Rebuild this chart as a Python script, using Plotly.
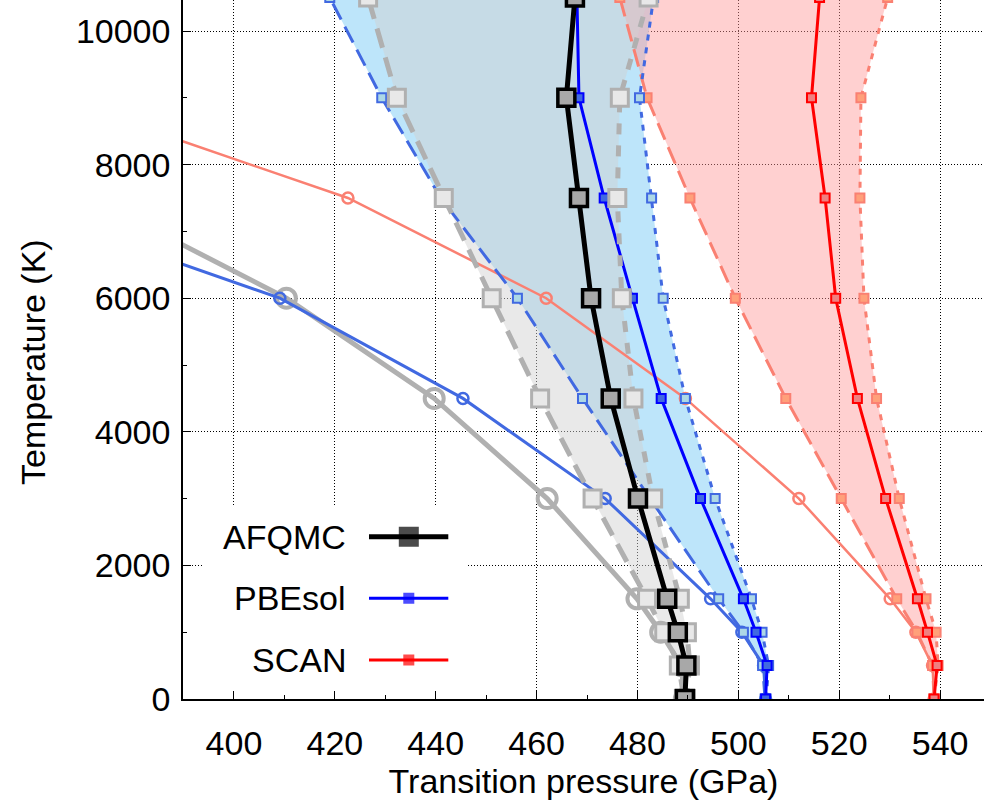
import plotly.graph_objects as go

# ---------------- data ----------------
T = [0, 500, 1000, 1500, 3000, 4500, 6000, 7500, 9000, 10500]

afqmc = [489.4, 489.7, 488.0, 485.9, 480.1, 474.7, 470.8, 468.4, 465.9, 467.6]
afqmc_lo = [489.2, 488.2, 485.3, 481.9, 471.1, 460.7, 451.1, 441.6, 432.3, 426.6]
afqmc_hi = [489.6, 490.4, 489.8, 488.4, 483.1, 479.2, 476.9, 476.0, 476.5, 482.2]

pbesol = [505.4, 505.7, 503.5, 501.0, 492.5, 484.7, 479.0, 473.4, 468.4, 468.0]
pbesol_lo = [505.3, 504.8, 501.0, 496.1, 482.5, 469.1, 456.2, 441.0, 429.3, 419.0]
pbesol_hi = [505.5, 506.0, 504.7, 502.6, 495.4, 489.5, 485.1, 482.8, 480.4, 483.2]

scan = [538.8, 539.4, 537.5, 535.5, 529.2, 523.6, 519.3, 517.2, 514.5, 516.1]
scan_lo = [538.8, 538.5, 535.4, 531.4, 520.4, 509.4, 499.4, 490.4, 481.9, 476.5]
scan_hi = [538.8, 539.6, 539.2, 537.2, 531.9, 527.4, 524.9, 524.1, 524.3, 529.6]

T_melt_afqmc = [0, 500, 1000, 1500, 3000, 4500, 6000, 7500]
afqmc_melt = [489.3, 488.7, 484.6, 479.9, 462.1, 439.7, 410.4, 371.8]

T_melt_pbesol = [0, 500, 1000, 1500, 3000, 4500, 6000, 7500]
pbesol_melt = [505.4, 505.0, 500.7, 494.5, 473.6, 445.4, 409.1, 352.2]

T_melt_scan = [0, 500, 1000, 1500, 3000, 4500, 6000, 7500, 9000]
scan_melt = [538.8, 538.5, 535.2, 530.1, 512.0, 489.5, 461.9, 422.6, 364.7]

legend_names = ["AFQMC", "PBEsol", "SCAN"]

x_ticks = [400, 420, 440, 460, 480, 500, 520, 540]
y_ticks = [0, 2000, 4000, 6000, 8000, 10000]
y_tick_text = ["0", "2000", "4000", "6000", "8000", "10000"]

# ---------------- styling ----------------
FONT = "Liberation Sans, Arial, Helvetica, sans-serif"
FS = 34
W, H = 984, 807
ML, MR, MT, MB = 183, 0, 0, 108
PW, PH = W - ML - MR, H - MT - MB

GRAY = "#b0b0b0"
ROYAL = "#4169e1"
SALMON = "#fa8072"

fig = go.Figure()


def band(lo, hi, color):
    fig.add_trace(go.Scatter(
        x=lo + hi[::-1], y=T + T[::-1], mode="lines", fill="toself",
        fillcolor=color, line=dict(width=0), hoverinfo="skip", showlegend=False))


def curve(x, y, color, width, dash, symbol, msize, mfill, mline, mlw):
    fig.add_trace(go.Scatter(
        x=x, y=y, mode="lines+markers",
        line=dict(color=color, width=width, dash=dash),
        marker=dict(symbol=symbol, size=msize, color=mfill,
                    line=dict(color=mline, width=mlw)),
        showlegend=False))


# bands
band(pbesol_lo, pbesol_hi, "rgb(189,229,250)")
band(scan_lo, scan_hi, "rgba(255,150,150,0.45)")
band(afqmc_lo, afqmc_hi, "rgba(208,208,208,0.48)")

# melting-like curves
curve(afqmc_melt, T_melt_afqmc, GRAY, 5, "solid", "circle-open", 19, GRAY, GRAY, 4)
curve(pbesol_melt, T_melt_pbesol, ROYAL, 3, "solid", "circle-open", 11, ROYAL, ROYAL, 2.5)
curve(scan_melt, T_melt_scan, SALMON, 2.5, "solid", "circle-open", 11, SALMON, SALMON, 2.5)

# SCAN
curve(scan_lo, T, SALMON, 3, "18px,8px", "square", 9, "#ffa07a", SALMON, 2)
curve(scan_hi, T, SALMON, 3, "6px,7px", "square", 9, "#ffa07a", SALMON, 2)
curve(scan, T, "#ff0000", 3, "solid", "square", 9, "#f08080", "#ff0000", 2)

# PBEsol
curve(pbesol_lo, T, ROYAL, 3, "18px,8px", "square", 9, "#add8e6", ROYAL, 2)
curve(pbesol_hi, T, ROYAL, 3, "6px,7px", "square", 9, "#add8e6", ROYAL, 2)
curve(pbesol, T, "#0000ff", 3, "solid", "square", 9, ROYAL, "#0000ff", 2)

# AFQMC
curve(afqmc_lo, T, GRAY, 5, "20px,10px", "square", 17, "#e8e8e8", GRAY, 3)
curve(afqmc_hi, T, GRAY, 5, "11px,11px", "square", 17, "#e8e8e8", GRAY, 3)
curve(afqmc, T, "#000000", 5, "solid", "square", 17, "#a8a8a8", "#000000", 3.5)

# ---------------- custom legend (text left, sample right) ----------------
def px_x(p):
    return (p - ML) / PW


def px_y(p):
    return (H - MB - p) / PH


box_x = [px_x(203), px_x(468), px_x(468), px_x(203), px_x(203)]
box_y = [px_y(697), px_y(697), px_y(506), px_y(506), px_y(697)]
fig.add_trace(go.Scatter(x=box_x, y=box_y, xaxis="x3", yaxis="y3", mode="lines",
                         fill="toself", fillcolor="white", line=dict(width=0),
                         hoverinfo="skip", showlegend=False))

leg_rows = [536.7, 598.3, 660.0]
leg_styles = [
    dict(color="#000000", width=5, msize=17, mfill="#000000", mline="#000000", mlw=3),
    dict(color="#0000ff", width=3, msize=9, mfill="#0000ff", mline="#0000ff", mlw=2),
    dict(color="#ff0000", width=3, msize=9, mfill="#ff0000", mline="#ff0000", mlw=2),
]
annotations = []
for name, row, st in zip(legend_names, leg_rows, leg_styles):
    yy = px_y(row)
    fig.add_trace(go.Scatter(
        x=[px_x(369), px_x(408.8), px_x(448.3)], y=[yy, yy, yy],
        xaxis="x3", yaxis="y3", mode="lines+markers",
        line=dict(color=st["color"], width=st["width"]),
        marker=dict(symbol="square", size=[0, st["msize"], 0], color=st["mfill"],
                    line=dict(color=st["mline"], width=[0, st["mlw"], 0])),
        hoverinfo="skip", showlegend=False))
    annotations.append(dict(x=px_x(348), y=yy, xref="paper", yref="paper",
                            text=name, showarrow=False, xanchor="right",
                            yanchor="middle", font=dict(family=FONT, size=FS, color="black")))

annotations.append(dict(x=px_x(33), y=px_y(362), xref="paper", yref="paper",
                        text="Temperature (K)", textangle=-90, showarrow=False,
                        xanchor="center", yanchor="middle",
                        font=dict(family=FONT, size=FS, color="black")))

XR = [389.9, 548.7]
YR = [0, 10464]

axis_common = dict(
    ticks="inside", ticklen=8, tickwidth=1.3, tickcolor="black",
    showline=True, linecolor="black", linewidth=1.5,
    showgrid=True, gridcolor="black", griddash="1px,2px", gridwidth=1,
    zeroline=False, tickfont=dict(family=FONT, size=FS, color="black"),
)

fig.update_layout(
    width=W, height=H,
    margin=dict(l=ML, r=MR, t=MT, b=MB, autoexpand=False),
    paper_bgcolor="white", plot_bgcolor="white",
    showlegend=False,
    font=dict(family=FONT, size=FS, color="black"),
    xaxis=dict(range=XR, tickvals=x_ticks, ticklabelstandoff=13,
               minor=dict(dtick=10, tick0=400, ticks="inside", ticklen=4,
                          tickcolor="black", tickwidth=1, showgrid=False),
               title=dict(text="Transition pressure (GPa)",
                          font=dict(family=FONT, size=FS, color="black"), standoff=8),
               **axis_common),
    yaxis=dict(range=YR, tickvals=y_ticks, ticktext=y_tick_text, ticklabelstandoff=4,
               minor=dict(dtick=1000, tick0=0, ticks="inside", ticklen=4,
                          tickcolor="black", tickwidth=1, showgrid=False),
               **axis_common),
    xaxis2=dict(range=XR, overlaying="x", side="top", anchor="y",
                tickvals=x_ticks, ticks="inside", ticklen=8, tickwidth=1.3,
                tickcolor="black", showticklabels=False, showgrid=False,
                showline=False, zeroline=False,
                minor=dict(dtick=10, tick0=400, ticks="inside", ticklen=4,
                           tickcolor="black", tickwidth=1, showgrid=False)),
    xaxis3=dict(range=[0, 1], overlaying="x", anchor="y3", visible=False),
    yaxis3=dict(range=[0, 1], overlaying="y", anchor="x3", visible=False),
    annotations=annotations,
)

fig.write_html(
    "out.html",
    config={"displayModeBar": False},
    post_script="document.body.style.margin='0';document.body.style.overflow='hidden';",
)
